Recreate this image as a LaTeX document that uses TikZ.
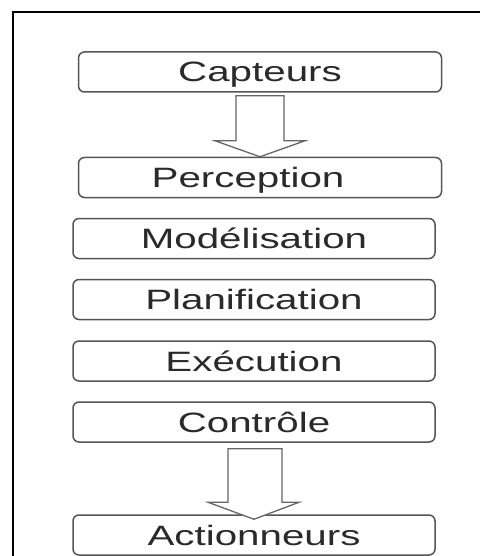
\documentclass[tikz,border=0pt]{standalone}
\usepackage{fontspec}
\setmainfont{Liberation Sans}
\usetikzlibrary{calc}
\definecolor{boxline}{HTML}{555555}
\definecolor{inktext}{HTML}{2A2A2A}
\definecolor{arrowline}{HTML}{666666}
% stretched sans label
\newcommand{\wlabel}[1]{\scalebox{1.44}[1]{\fontsize{28}{28}\selectfont #1}}
\tikzset{
  stagebox/.style={draw=boxline, line width=1.5pt, rounded corners=6pt,
    minimum height=40pt, inner sep=0pt, text=inktext,
    text height=20pt, text depth=0pt},
  hollowarrow/.style={draw=arrowline, line width=1.3pt, fill=white, line join=miter},
  frameline/.style={draw=black, line width=2pt}
}
\begin{document}
\begin{tikzpicture}[x=1pt,y=-1pt]
  \useasboundingbox (0,0) rectangle (480,556);
  \fill[white] (0,0) rectangle (480,556);
  % outer frame (left and top edges only)
  \draw[frameline] (13,556) -- (13,12) -- (480,12);

  % stages
  \node[stagebox, minimum width=363pt] (cap) at (260,72)    {\wlabel{Capteurs}};
  \node[stagebox, minimum width=363pt] (per) at (260,177.5) {\wlabel{Perception}\hspace*{24pt}};
  \node[stagebox, minimum width=362pt] (mod) at (254,238.5) {\wlabel{Modélisation}};
  \node[stagebox, minimum width=362pt] (pla) at (254,299.5) {\wlabel{Planification}};
  \node[stagebox, minimum width=362pt] (exe) at (254,361)   {\wlabel{Exécution}};
  \node[stagebox, minimum width=362pt] (con) at (254,422)   {\wlabel{Contrôle}};
  \node[stagebox, minimum width=362pt] (act) at (254,535)   {\wlabel{Actionneurs}};

  % hollow block arrows
  \draw[hollowarrow] let \p1=($(cap.south)+(0,3)$), \p2=(per.north) in
    (\x1-24pt,\y1) -- (\x1+24pt,\y1) -- (\x1+24pt,\y2+16pt) -- (\x1+45pt,\y2+16pt)
    -- (\x1,\y2) -- (\x1-45pt,\y2+16pt) -- (\x1-24pt,\y2+16pt) -- cycle;
  \draw[hollowarrow] let \p1=($(con.south)+(0,6)$), \p2=($(act.north)+(0,5)$) in
    (\x1-26pt,\y1) -- (\x1+28pt,\y1) -- (\x1+28pt,\y2+17pt) -- (\x1+45pt,\y2+17pt)
    -- (\x1,\y2) -- (\x1-46pt,\y2+17pt) -- (\x1-26pt,\y2+17pt) -- cycle;
\end{tikzpicture}
\end{document}
